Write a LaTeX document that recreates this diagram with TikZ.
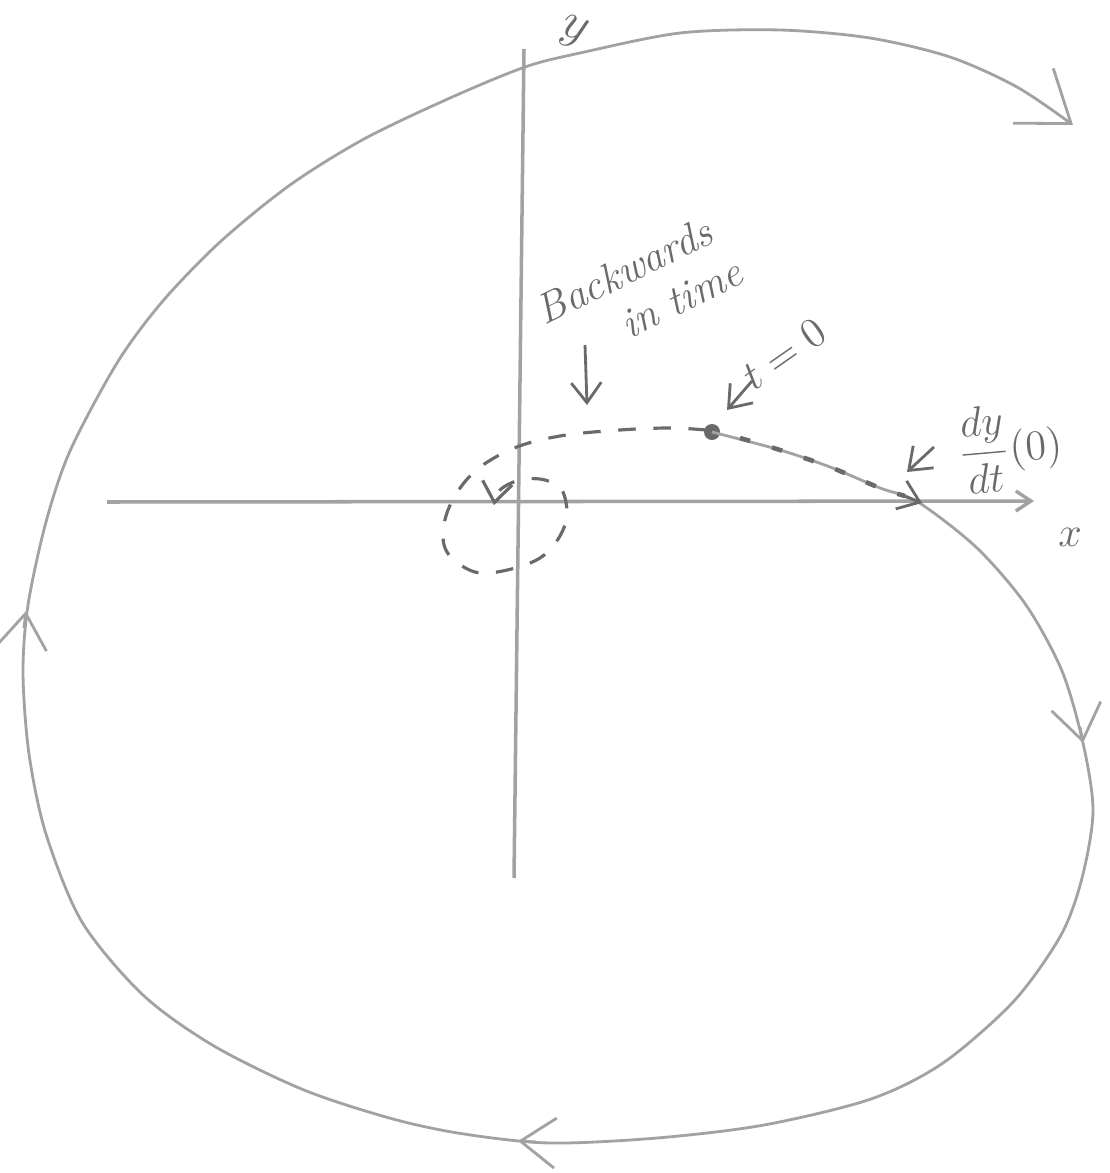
\documentclass[tikz,border=0pt]{standalone}
\usetikzlibrary{arrows.meta, positioning}
\definecolor{pencilGrey}{HTML}{A2A2A2}
\definecolor{pencilDark}{HTML}{6A6A6A}
\tikzset{
    axis line/.style={draw=pencilGrey, line width=1pt},
    orbit line/.style={draw=pencilGrey, line width=0.8pt},
    back line/.style={draw=pencilDark, line width=0.9pt, dash pattern=on 5pt off 5pt},
    flow tip/.style={-{Straight Barb[length=3.5mm, width=5mm]}, draw=pencilGrey, line width=0.8pt},
    note arrow/.style={-{Straight Barb[length=2mm, width=3mm]}, draw=pencilDark, line width=0.8pt},
    hand label/.style={text=pencilDark, font=\large\itshape, inner sep=1pt},
    start dot/.style={circle, fill=pencilDark, inner sep=0pt, minimum size=1.6mm},
}

\begin{document}
\begin{tikzpicture}[x=0.01cm, y=-0.01cm]
    \useasboundingbox (0,0) rectangle (1110,1173);

    % axes
    \coordinate (xleft) at (107,502);
    \coordinate (xright) at (1034,501);
    \coordinate (ytop) at (524,49);
    \coordinate (ybot) at (514,878);
    \draw[axis line, -{Straight Barb[length=1.5mm, width=2mm]}] (xleft) -- (xright);
    \draw[axis line] (ytop) -- (ybot);
    \node[hand label, font=\large] (xlab) at (1070,537) {$x$};
    \node[hand label, font=\Large, inner sep=0pt, rotate=-20] (ylab) at (574,32) {$y$};

    % forward orbit from t=0
    \node[start dot] (tzero) at (712,432) {};
    \draw[orbit line, -{Straight Barb[length=4.7mm, width=6.8mm]}] plot[smooth] coordinates {
        (712,432) (780,450) (830,467) (880,488) (918,502) (977,548) (1026,605) (1062,671)
        (1083,743) (1093,811) (1082,878) (1061,935) (1014,1001) (943,1063) (871,1099)
        (764,1125) (657,1138) (550,1143) (464,1134) (393,1119) (304,1090) (214,1046)
        (143,995) (82,922) (46,834) (29,754) (23,673) (28,605) (46,522) (70,451)
        (117,363) (162,302) (220,242) (290,185) (364,139) (450,98) (525,67) (580,53)
        (680,33) (780,30) (870,38) (950,57) (1017,87) (1073,125)};
    \draw[pencilDark, line width=1.3pt, dash pattern=on 3pt off 6.5pt]
        plot[smooth] coordinates {(740,438) (780,450) (830,467) (880,488) (905,496)};
    \draw[note arrow] (904,496) -- (922,503);

    % direction marks on the orbit
    \draw[flow tip] (1080,727) -- (1083,743);
    \draw[flow tip] (536,1142) -- (518,1141);
    \draw[flow tip] (24,628) -- (26,611);

    % backwards in time
    \draw[back line, -{Straight Barb[length=2mm, width=3mm]}] plot[smooth, tension=0.6] coordinates {
        (706,430) (670,428) (620,430) (560,436) (512,449) (472,474) (448,510) (444,545)
        (462,566) (490,573) (540,558) (565,525) (563,492) (545,480) (520,480) (500,490) (494,505)};

    % labels
    \node[hand label, rotate=26, align=left] (back) at (639,291) {Backwards\\\hspace*{1.65em}in time};
    \coordinate (backfrom) at (585,345);
    \coordinate (backto) at (587,405);
    \draw[note arrow] (backfrom) -- (backto);

    \node[hand label, rotate=35] (tlab) at (784,354) {$t=0$};
    \coordinate (tfrom) at (752,381);
    \coordinate (tto) at (727,410);
    \draw[note arrow] (tfrom) -- (tto);

    \node[hand label, rotate=5] (dlab) at (1010,447) {$\displaystyle\frac{dy}{dt}(0)$};
    \coordinate (dfrom) at (934,447);
    \coordinate (dto) at (907,472);
    \draw[note arrow] (dfrom) -- (dto);
\end{tikzpicture}
\end{document}
